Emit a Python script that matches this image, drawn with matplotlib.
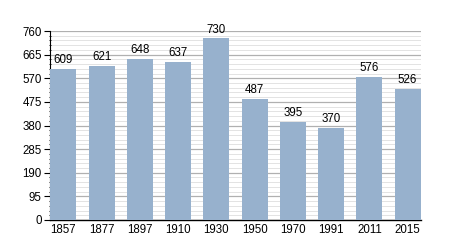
import matplotlib
matplotlib.use('Agg')
import matplotlib.pyplot as plt
import numpy as np

years = ['1857', '1877', '1897', '1910', '1930', '1950', '1970', '1991', '2011', '2015']
population = [609, 621, 648, 637, 730, 487, 395, 370, 576, 526]
yticks = [0, 95, 190, 285, 380, 475, 570, 665, 760]

plt.rcParams['font.family'] = ['Liberation Sans', 'DejaVu Sans']

fig = plt.figure(figsize=(4.5, 2.5), dpi=100)
ax = fig.add_axes([50 / 450, 30 / 250, 371 / 450, 189 / 250])

x = np.arange(len(years))
ax.bar(x, population, width=0.68, color='#97b1cd', zorder=3)
for xi, v in zip(x, population):
    ax.annotate(str(v), (xi, v), xytext=(0, 2), textcoords='offset points',
                ha='center', va='bottom', fontsize=8.3, zorder=4)

ax.set_xlim(-0.35, len(years) - 0.65)
ax.set_ylim(0, 760)
ax.set_xticks(x)
ax.set_xticklabels(years, fontsize=8.3)
ax.set_yticks(yticks)
ax.set_yticklabels([str(t) for t in yticks], fontsize=8.3)
ax.set_yticks(np.arange(0, 761, 19), minor=True)

# major lines mid grey, minor ones very faint
ax.grid(axis='y', which='major', color='#b0b0b0', linewidth=0.9, zorder=1)
ax.grid(axis='y', which='minor', color='#e3e3e3', linewidth=0.7, zorder=0)

ax.tick_params(axis='x', length=0, pad=3)
ax.tick_params(axis='y', which='major', length=4, width=0.8, direction='out', pad=2)
ax.tick_params(axis='y', which='minor', length=2, width=0.6, direction='inout')

for s in ('top', 'right'):
    ax.spines[s].set_visible(False)
ax.spines['left'].set_linewidth(0.8)
ax.spines['bottom'].set_linewidth(1.0)

fig.savefig('out.png', dpi=100)
